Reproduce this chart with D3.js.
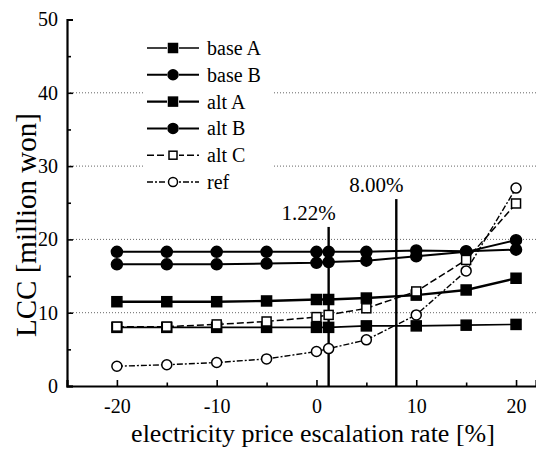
<!DOCTYPE html>
<html>
<head>
<meta charset="utf-8">
<script src="https://cdn.jsdelivr.net/npm/d3@7"></script>
<style>
  body { margin: 0; background: #fff; }
  svg { display: block; font-family: "Liberation Serif", "DejaVu Serif", serif; }
</style>
</head>
<body>
<div id="chart"></div>
<script>
// escalation rates (%) where each case was evaluated
const rates = [-20, -15, -10, -5, 0, 1.22, 5, 10, 15, 20];

// LCC [million won] per case
const baseA = [8.0, 8.0, 8.0, 8.0, 8.0, 8.0, 8.2, 8.2, 8.3, 8.4];
const baseB = [18.3, 18.3, 18.3, 18.3, 18.3, 18.3, 18.3, 18.5, 18.4, 18.6];
const altA = [11.5, 11.5, 11.5, 11.6, 11.8, 11.8, 12.0, 12.4, 13.1, 14.7];
const altB = [16.6, 16.6, 16.6, 16.7, 16.8, 16.9, 17.1, 17.7, 18.3, 19.9];
const altC = [8.1, 8.1, 8.4, 8.8, 9.4, 9.7, 10.6, 12.9, 17.2, 24.9];
const ref = [2.7, 2.9, 3.2, 3.7, 4.7, 5.1, 6.3, 9.7, 15.7, 27.0];

const seriesNames = ["base A", "base B", "alt A", "alt B", "alt C", "ref"];

// break-even rates marked with vertical lines
const breakEven = [1.22, 8.00];
const breakEvenLabels = ["1.22%", "8.00%"];

const xTicks = [-20, -10, 0, 10, 20];
const yTicks = [0, 10, 20, 30, 40, 50];

const width = 536;
const height = 450;

const svg = d3.select("#chart").append("svg")
  .attr("width", width)
  .attr("height", height);

const x = d3.scaleLinear().domain([-25, 22]).range([67, 536]);
const y = d3.scaleLinear().domain([0, 50]).range([386, 19.5]);

// look of each series: marker shape, fill, line width, dash
const styles = [
  { shape: "square", fill: "#000", size: 10, lw: 1.6, dash: null },
  { shape: "circle", fill: "#000", size: 11, lw: 2, dash: null },
  { shape: "square", fill: "#000", size: 10, lw: 2.4, dash: null },
  { shape: "circle", fill: "#000", size: 11, lw: 2, dash: null },
  { shape: "square", fill: "#fff", size: 9, lw: 1.5, dash: "7,3" },
  { shape: "circle", fill: "#fff", size: 10, lw: 1.4, dash: "6,2,2,2" }
];

const allSeries = [baseA, baseB, altA, altB, altC, ref].map((vals, i) => ({
  name: seriesNames[i],
  style: styles[i],
  points: vals.map((v, j) => ({ x: rates[j], y: v }))
}));

// dotted grid
svg.append("g")
  .selectAll("line")
  .data([10, 20, 30, 40])
  .enter()
  .append("line")
  .attr("x1", x(-25))
  .attr("x2", width)
  .attr("y1", d => y(d))
  .attr("y2", d => y(d))
  .attr("stroke", "#666")
  .attr("stroke-width", 1)
  .attr("stroke-dasharray", "1,2");

// axes with inward ticks (plain hyphen for negatives, like the original)
const xAxis = svg.append("g")
  .attr("transform", `translate(0,${y(0)})`)
  .call(d3.axisBottom(x).tickValues(xTicks).tickSize(-6).tickPadding(13).tickFormat(d => String(d)));
svg.append("g")
  .attr("transform", `translate(0,${y(0)})`)
  .call(d3.axisBottom(x).tickValues([-15, -5, 5, 15]).tickSize(-3.5).tickFormat(""))
  .select(".domain").remove();

const yAxis = svg.append("g")
  .attr("transform", `translate(${x(-25)},0)`)
  .call(d3.axisLeft(y).tickValues(yTicks).tickSize(-6).tickPadding(9).tickFormat(d => String(d)));
svg.append("g")
  .attr("transform", `translate(${x(-25)},0)`)
  .call(d3.axisLeft(y).tickValues([5, 15, 25, 35, 45]).tickSize(-4).tickFormat(""))
  .select(".domain").remove();

svg.selectAll(".domain").attr("stroke", "#000").attr("stroke-width", 2.2);
svg.selectAll(".tick line").attr("stroke", "#000").attr("stroke-width", 1.6);
svg.selectAll(".tick text")
  .attr("font-family", "Liberation Serif")
  .attr("font-size", 20)
  .attr("fill", "#000");

// axis titles
svg.append("text")
  .attr("x", 313)
  .attr("y", 442)
  .attr("text-anchor", "middle")
  .attr("font-size", 26)
  .text("electricity price escalation rate [%]");

svg.append("text")
  .attr("transform", "translate(36,225) rotate(-90)")
  .attr("text-anchor", "middle")
  .attr("font-size", 29)
  .text("LCC [million won]");

// break-even lines
const lineTops = [21.7, 25.5];
breakEven.forEach((v, i) => {
  svg.append("line")
    .attr("x1", x(v)).attr("x2", x(v))
    .attr("y1", y(0)).attr("y2", y(lineTops[i]))
    .attr("stroke", "#000")
    .attr("stroke-width", 2.4);
  svg.append("text")
    .attr("x", x(v) - 20)
    .attr("y", y(lineTops[i]) - 7)
    .attr("text-anchor", "middle")
    .attr("font-size", 21)
    .text(breakEvenLabels[i]);
});

const line = d3.line().x(d => x(d.x)).y(d => y(d.y));

// lines
svg.append("g")
  .selectAll("path")
  .data(allSeries)
  .enter()
  .append("path")
  .attr("d", d => line(d.points))
  .attr("fill", "none")
  .attr("stroke", "#000")
  .attr("stroke-width", d => d.style.lw)
  .attr("stroke-dasharray", d => d.style.dash);

const drawMarker = (g, st, cx, cy) => {
  if (st.shape === "square") {
    g.append("rect")
      .attr("x", cx - st.size / 2)
      .attr("y", cy - st.size / 2)
      .attr("width", st.size)
      .attr("height", st.size)
      .attr("fill", st.fill)
      .attr("stroke", "#000")
      .attr("stroke-width", 1.5);
  } else {
    g.append("circle")
      .attr("cx", cx)
      .attr("cy", cy)
      .attr("r", st.size / 2)
      .attr("fill", st.fill)
      .attr("stroke", "#000")
      .attr("stroke-width", 1.5);
  }
};

// markers
const markers = svg.append("g");
allSeries.forEach(s => {
  s.points.forEach(p => drawMarker(markers, s.style, x(p.x), y(p.y)));
});

// legend
const legendX = 147;
const legendY = 48;
const rowH = 26.8;
svg.append("rect")
  .attr("x", 144)
  .attr("y", 30)
  .attr("width", 128)
  .attr("height", 166)
  .attr("fill", "#fff");

const legend = svg.append("g");
allSeries.forEach((s, i) => {
  const cy = legendY + i * rowH;
  legend.append("line")
    .attr("x1", legendX).attr("x2", legendX + 52)
    .attr("y1", cy).attr("y2", cy)
    .attr("stroke", "#000")
    .attr("stroke-width", s.style.lw)
    .attr("stroke-dasharray", s.style.dash);
  legend.append("rect")
    .attr("x", legendX + 20).attr("y", cy - 6)
    .attr("width", 12).attr("height", 12)
    .attr("fill", "#fff");
  drawMarker(legend, { ...s.style, size: s.style.size - 1 }, legendX + 26, cy);
  legend.append("text")
    .attr("x", legendX + 60)
    .attr("y", cy)
    .attr("dy", "0.35em")
    .attr("font-size", 20)
    .text(s.name);
});
</script>
</body>
</html>
